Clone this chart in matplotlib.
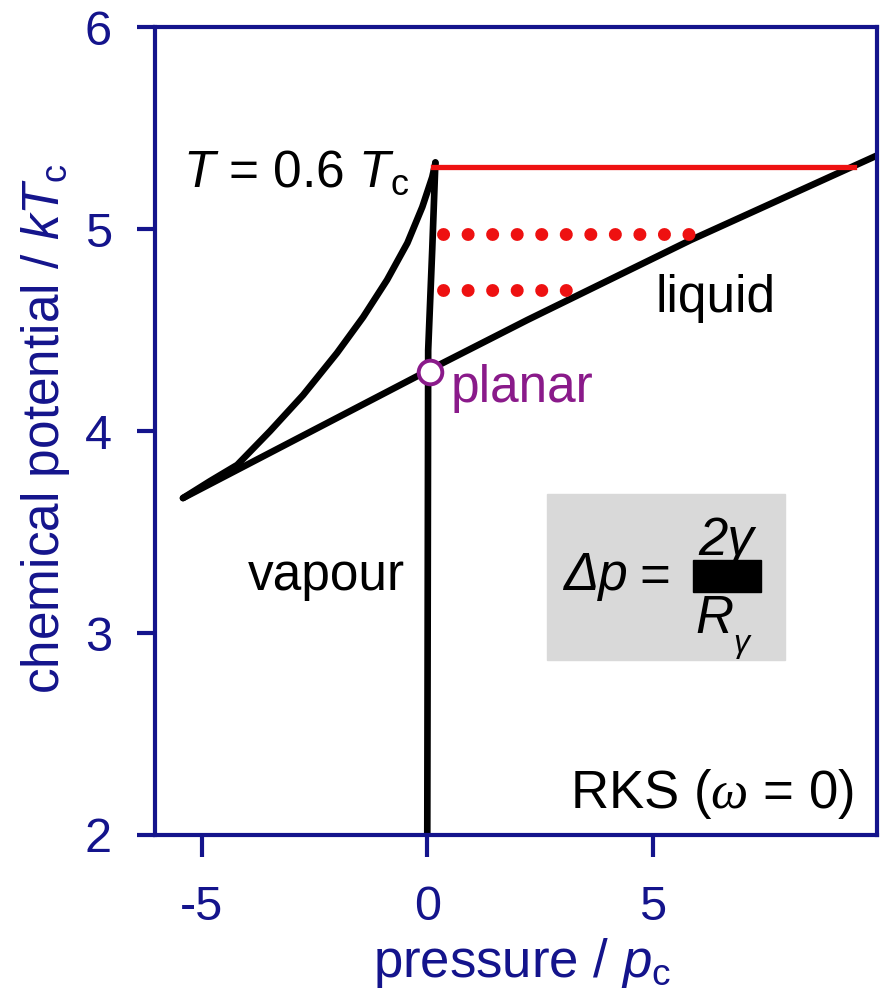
import numpy as np
import matplotlib
matplotlib.use("Agg")
import matplotlib.pyplot as plt
from matplotlib.patches import Rectangle

plt.rcParams['font.family'] = ['Liberation Sans', 'DejaVu Sans']
plt.rcParams['mathtext.fontset'] = 'custom'
plt.rcParams['mathtext.rm'] = 'Liberation Sans'
plt.rcParams['mathtext.it'] = 'Liberation Sans:italic'
plt.rcParams['mathtext.sf'] = 'Liberation Serif:italic'
plt.rcParams['axes.unicode_minus'] = False

# vapour branch (near-vertical), p / pc vs mu / kTc
vap_p = [0.0, 0.02, 0.11, 0.18]
vap_mu = [2.0, 4.40, 4.90, 5.33]

# metastable curved branch from cusp up to spinodal tip
meta_p = [-5.41, -4.81, -4.21, -3.48, -2.75, -2.00, -1.42, -0.89, -0.44, -0.11, 0.11, 0.18]
meta_mu = [3.668, 3.752, 3.832, 4.000, 4.178, 4.386, 4.564, 4.748, 4.931, 5.109, 5.257, 5.327]

# liquid branch
liq_p = [-5.41, 0.04, 2.22, 5.84, 9.98]
liq_mu = [3.668, 4.302, 4.550, 4.946, 5.366]

# red tie lines
tie_mu = 5.307
tie_p = [0.13, 9.45]
dot1_mu = 4.975
dot1_p = [0.35, 5.85]
dot2_mu = 4.698
dot2_p = [0.35, 3.10]

planar_p, planar_mu = 0.05, 4.29

blue = '#14148c'
purple = '#8a1a8a'
red = '#ee1111'

fig = plt.figure(figsize=(8.8, 9.99), dpi=100)
ax = fig.add_axes([155/880, 1-835/999, 722/880, 808/999])

ax.plot(vap_p, vap_mu, color='black', lw=4.8, solid_capstyle='round', solid_joinstyle='round')
ax.plot(meta_p, meta_mu, color='black', lw=4.8, solid_capstyle='round', solid_joinstyle='round')
ax.plot(liq_p, liq_mu, color='black', lw=4.8, solid_capstyle='round', solid_joinstyle='round')
ax.plot(tie_p, [tie_mu, tie_mu], color=red, lw=3.8)
ax.plot(dot1_p, [dot1_mu, dot1_mu], color=red, lw=9.3,
        linestyle=(0, (0.01, 1.89)), dash_capstyle='round')
ax.plot(dot2_p, [dot2_mu, dot2_mu], color=red, lw=9.3,
        linestyle=(0, (0.01, 1.89)), dash_capstyle='round')
ax.plot([planar_p], [planar_mu], 'o', ms=17, mfc='white', mec=purple, mew=2.8, zorder=5)

ax.set_xlim(-6.03, 9.96)
ax.set_ylim(2, 6)
ax.set_xticks([-5, 0, 5])
ax.set_yticks([2, 3, 4, 5, 6])
for s in ax.spines.values():
    s.set_color(blue)
    s.set_linewidth(3)
ax.tick_params(axis='both', colors=blue, labelsize=35, width=3, direction='out')
ax.tick_params(axis='x', length=16, pad=20)
ax.tick_params(axis='y', length=13, pad=18)

ax.set_xlabel(r'pressure / $p_\mathrm{c}$', fontsize=38, color=blue)
ax.set_ylabel(r'chemical potential / $kT_\mathrm{c}$', fontsize=37, color=blue)
ax.xaxis.set_label_coords(0.508, -0.125)
ax.yaxis.set_label_coords(-0.115, 0.502)

ax.text(-5.41, 5.208, r'$T$ = 0.6 $T_\mathrm{c}$', fontsize=37)
ax.text(5.06, 4.589, 'liquid', fontsize=37)
ax.text(0.51, 4.144, 'planar', fontsize=37, color=purple)
ax.text(-3.97, 3.213, 'vapour', fontsize=37)
ax.text(0.967, 0.033, r'RKS ($\mathsf{\omega}$ = 0)', transform=ax.transAxes,
        ha='right', va='baseline', fontsize=38)

# formula box
def fx(x):
    return x / 880

def fy(y):
    return 1 - y / 999

fig.patches.append(Rectangle((fx(547), fy(660)), (785-547)/880, (660-494)/999,
                             transform=fig.transFigure, color='#d9d9d9', zorder=0))
fig.text(fx(563), fy(590), 'Δp', fontsize=38, style='italic')
fig.text(fx(631), fy(590), r'$=$', fontsize=38)
fig.text(fx(698), fy(555), '2γ', fontsize=38, style='italic')
fig.patches.append(Rectangle((fx(693), fy(592)), (761-693)/880, (592-560)/999,
                             transform=fig.transFigure, color='black', zorder=1))
fig.text(fx(695), fy(633), 'R', fontsize=38, style='italic')
fig.text(fx(733), fy(652), 'γ', fontsize=23, style='italic')

fig.savefig('out.png', dpi=100)
